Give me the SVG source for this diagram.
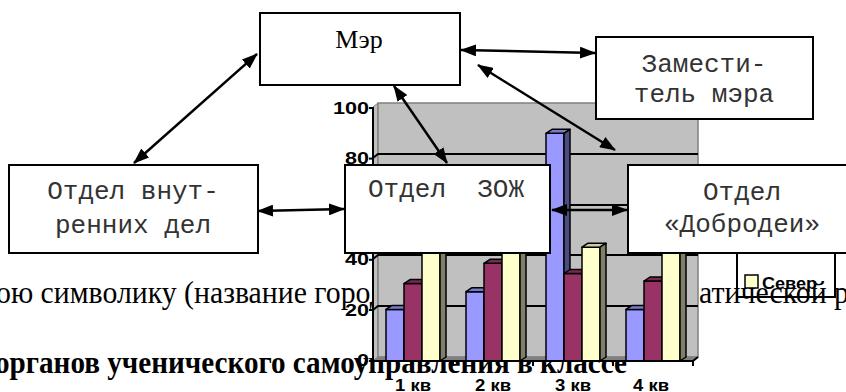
<svg xmlns="http://www.w3.org/2000/svg" width="846" height="392" viewBox="0 0 846 392">
<defs>
<style>
.bg{font-family:"Liberation Serif","Times New Roman",serif;fill:#000}
.box{fill:#fff;stroke:#000;stroke-width:2}
.mono{font-family:"Liberation Mono","Courier New",monospace;font-size:26px;fill:#333;text-anchor:middle}
.serif{font-family:"Liberation Serif","Times New Roman",serif;font-size:26px;fill:#000;text-anchor:middle}
.ax{font-family:"Liberation Sans",Arial,sans-serif;font-weight:bold;font-size:16px;fill:#000}
.bar{stroke:#000;stroke-width:1.5;stroke-linejoin:round}
.grid{fill:none;stroke:#000;stroke-width:2}
.conn{fill:none;stroke:#000;stroke-width:2.5}
</style>
<marker id="ah" viewBox="0 0 16 12" refX="15" refY="6" markerWidth="16" markerHeight="12" markerUnits="userSpaceOnUse" orient="auto-start-reverse">
<path d="M0,0 L16,6 L0,12 z" fill="#000"/>
</marker>
</defs>
<rect width="846" height="392" fill="#fff"/>

<g id="page-text">
<text class="bg" x="-4" y="303" font-size="32" textLength="402" lengthAdjust="spacingAndGlyphs">ою символику (название города</text>
<text class="bg" x="699" y="303" font-size="32" textLength="150" lengthAdjust="spacingAndGlyphs">атической р</text>
<text class="bg" x="-5" y="373" font-size="31" font-weight="bold" textLength="632" lengthAdjust="spacingAndGlyphs">органов ученического самоуправления в классе</text>
</g>

<g id="chart">
<polygon points="373,107 378,103 378,357 373,361" fill="#c0c0c0" stroke="#808080" stroke-width="1"/>
<rect x="378" y="103" width="320" height="254" fill="#c0c0c0" stroke="#808080" stroke-width="1.5"/>
<polygon points="373,361 378,357 698,357 693,361" fill="#808080" stroke="#808080" stroke-width="1"/>
<polyline class="grid" points="373,158 378,154 698,154"/>
<polyline class="grid" points="373,209 378,205 698,205"/>
<polyline class="grid" points="373,259 378,255 698,255"/>
<polyline class="grid" points="373,310 378,306 698,306"/>
<g id="bars">
<rect class="bar" x="386" y="309.4" width="18" height="51.6" fill="#9999ff"/><polygon class="bar" points="386,309.4 392,305.4 410,305.4 404,309.4" fill="#7a7acc"/><polygon class="bar" points="404,309.4 410,305.4 410,357 404,361" fill="#4c4c80"/>
<rect class="bar" x="404" y="283.6" width="18" height="77.4" fill="#993366"/><polygon class="bar" points="404,283.6 410,279.6 428,279.6 422,283.6" fill="#7a2952"/><polygon class="bar" points="422,283.6 428,279.6 428,357 422,361" fill="#4c1933"/>
<rect class="bar" x="422" y="244.9" width="18" height="116.1" fill="#ffffcc"/><polygon class="bar" points="422,244.9 428,240.9 446,240.9 440,244.9" fill="#cccca3"/><polygon class="bar" points="440,244.9 446,240.9 446,357 440,361" fill="#80806a"/>
<rect class="bar" x="466" y="291.7" width="18" height="69.3" fill="#9999ff"/><polygon class="bar" points="466,291.7 472,287.7 490,287.7 484,291.7" fill="#7a7acc"/><polygon class="bar" points="484,291.7 490,287.7 490,357 484,361" fill="#4c4c80"/>
<rect class="bar" x="484" y="263.3" width="18" height="97.7" fill="#993366"/><polygon class="bar" points="484,263.3 490,259.3 508,259.3 502,263.3" fill="#7a2952"/><polygon class="bar" points="502,263.3 508,259.3 508,357 502,361" fill="#4c1933"/>
<rect class="bar" x="502" y="242.3" width="18" height="118.7" fill="#ffffcc"/><polygon class="bar" points="502,242.3 508,238.3 526,238.3 520,242.3" fill="#cccca3"/><polygon class="bar" points="520,242.3 526,238.3 526,357 520,361" fill="#80806a"/>
<rect class="bar" x="546" y="133.3" width="18" height="227.7" fill="#9999ff"/><polygon class="bar" points="546,133.3 552,129.3 570,129.3 564,133.3" fill="#7a7acc"/><polygon class="bar" points="564,133.3 570,129.3 570,357 564,361" fill="#4c4c80"/>
<rect class="bar" x="564" y="273.5" width="18" height="87.5" fill="#993366"/><polygon class="bar" points="564,273.5 570,269.5 588,269.5 582,273.5" fill="#7a2952"/><polygon class="bar" points="582,273.5 588,269.5 588,357 582,361" fill="#4c1933"/>
<rect class="bar" x="582" y="247.2" width="18" height="113.8" fill="#ffffcc"/><polygon class="bar" points="582,247.2 588,243.2 606,243.2 600,247.2" fill="#cccca3"/><polygon class="bar" points="600,247.2 606,243.2 606,357 600,361" fill="#80806a"/>
<rect class="bar" x="626" y="309.4" width="18" height="51.6" fill="#9999ff"/><polygon class="bar" points="626,309.4 632,305.4 650,305.4 644,309.4" fill="#7a7acc"/><polygon class="bar" points="644,309.4 650,305.4 650,357 644,361" fill="#4c4c80"/>
<rect class="bar" x="644" y="281" width="18" height="80" fill="#993366"/><polygon class="bar" points="644,281 650,277 668,277 662,281" fill="#7a2952"/><polygon class="bar" points="662,281 668,277 668,357 662,361" fill="#4c1933"/>
<rect class="bar" x="662" y="250" width="18" height="111" fill="#ffffcc"/><polygon class="bar" points="662,250 668,246 686,246 680,250" fill="#cccca3"/><polygon class="bar" points="680,250 686,246 686,357 680,361" fill="#80806a"/>
</g>
<g id="axes" stroke="#000" stroke-width="2">
<line x1="373" y1="107" x2="373" y2="362"/>
<line x1="373" y1="361" x2="693" y2="361"/>
<line x1="693" y1="361" x2="698" y2="357"/>
<line x1="369" y1="108" x2="373" y2="108"/>
<line x1="369" y1="158.6" x2="373" y2="158.6"/>
<line x1="369" y1="209" x2="373" y2="209"/>
<line x1="369" y1="259.8" x2="373" y2="259.8"/>
<line x1="369" y1="310" x2="373" y2="310"/>
<line x1="369" y1="361" x2="373" y2="361"/>
<line x1="373" y1="361" x2="373" y2="366"/>
<line x1="453" y1="361" x2="453" y2="366"/>
<line x1="533" y1="361" x2="533" y2="366"/>
<line x1="613" y1="361" x2="613" y2="366"/>
<line x1="693" y1="361" x2="693" y2="366"/>
</g>
<g id="axis-labels" class="ax" text-anchor="end">
<text x="369" y="114" textLength="36" lengthAdjust="spacingAndGlyphs">100</text>
<text x="369" y="164" textLength="24" lengthAdjust="spacingAndGlyphs">80</text>
<text x="369" y="215" textLength="24" lengthAdjust="spacingAndGlyphs">60</text>
<text x="369" y="265" textLength="24" lengthAdjust="spacingAndGlyphs">40</text>
<text x="369" y="316" textLength="24" lengthAdjust="spacingAndGlyphs">20</text>
<text x="369" y="366" textLength="12" lengthAdjust="spacingAndGlyphs">0</text>
</g>
<g class="ax" style="font-size:17px">
<text x="395" y="391" textLength="36" lengthAdjust="spacingAndGlyphs">1 кв</text>
<text x="475" y="391" textLength="36" lengthAdjust="spacingAndGlyphs">2 кв</text>
<text x="555" y="391" textLength="36" lengthAdjust="spacingAndGlyphs">3 кв</text>
<text x="633" y="391" textLength="36" lengthAdjust="spacingAndGlyphs">4 кв</text>
</g>
<g id="legend">
<rect x="737" y="235" width="98" height="62" fill="none" stroke="#000" stroke-width="2"/>
<rect x="745" y="275" width="13" height="13" fill="#ffffcc" stroke="#000" stroke-width="1.5"/>
<text class="ax" x="762" y="289" style="font-size:17px" textLength="55" lengthAdjust="spacingAndGlyphs">Север</text>
</g>
</g>

<g id="node-mayor">
<rect class="box" x="260" y="13" width="200" height="72"/>
<text class="serif" x="359" y="48">Мэр</text>
</g>
<g id="node-deputy">
<rect class="box" x="596" y="37" width="217" height="82"/>
<text class="mono" x="704" y="72">Замести-</text>
<text class="mono" x="704" y="102">тель мэра</text>
</g>
<g id="node-internal">
<rect class="box" x="9" y="165" width="249" height="88"/>
<text class="mono" x="133" y="199">Отдел внут-</text>
<text class="mono" x="133" y="233">ренних дел</text>
</g>
<g id="node-zozh">
<rect class="box" x="345" y="165" width="205" height="88"/>
<text class="mono" x="368" y="197" style="text-anchor:start;white-space:pre" xml:space="preserve">Отдел  ЗОЖ</text>
</g>
<g id="node-dobrodei">
<rect class="box" x="628" y="165" width="230" height="88"/>
<text class="mono" x="742" y="200">Отдел</text>
<text class="mono" x="742" y="232">«Добродеи»</text>
</g>

<g id="connectors">
<line class="conn" x1="134" y1="163" x2="257" y2="54" marker-start="url(#ah)" marker-end="url(#ah)"/>
<line class="conn" x1="461" y1="50" x2="595" y2="53" marker-start="url(#ah)" marker-end="url(#ah)"/>
<line class="conn" x1="478" y1="65" x2="615" y2="150" marker-start="url(#ah)" marker-end="url(#ah)"/>
<line class="conn" x1="394" y1="86" x2="447" y2="163" marker-start="url(#ah)" marker-end="url(#ah)"/>
<line class="conn" x1="258" y1="211" x2="344" y2="209" marker-start="url(#ah)" marker-end="url(#ah)"/>
<line class="conn" x1="552" y1="210" x2="627" y2="210" marker-start="url(#ah)" marker-end="url(#ah)"/>
</g>
</svg>
